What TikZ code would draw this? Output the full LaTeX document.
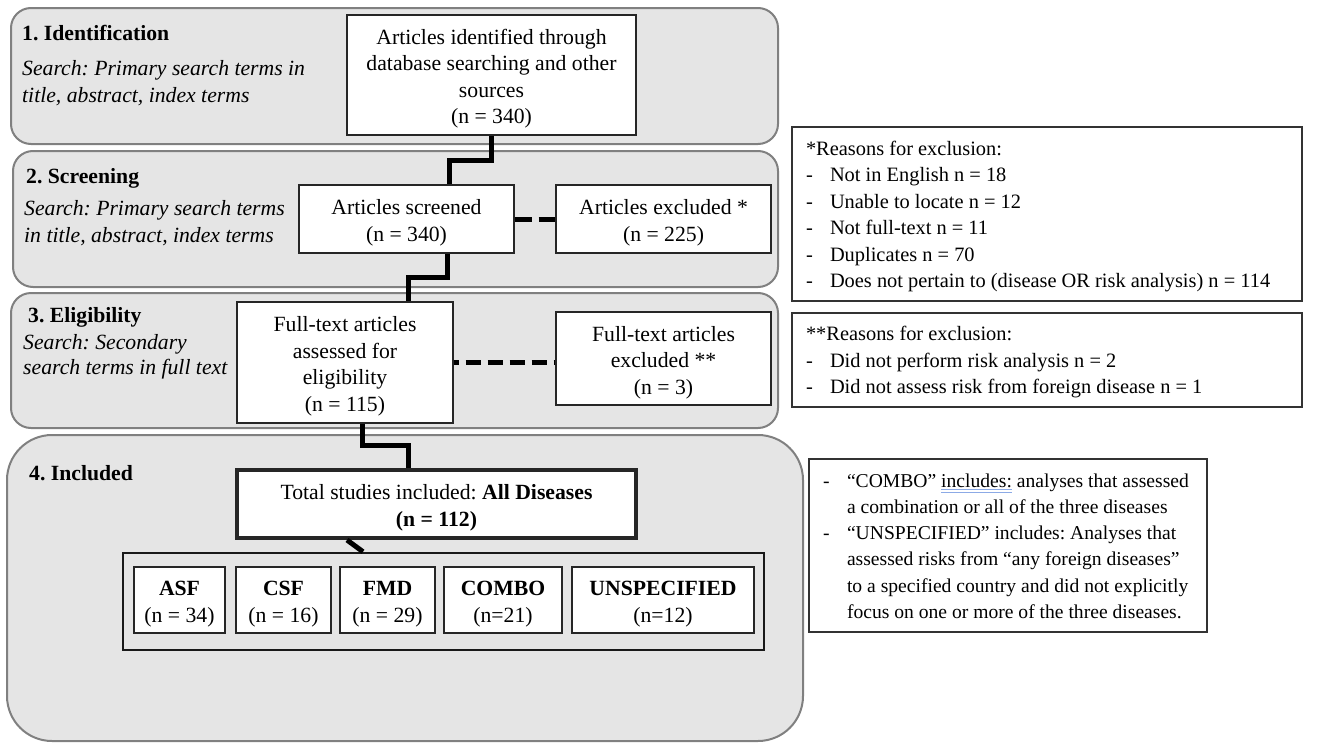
\documentclass[tikz,border=0pt]{standalone}
\usepackage{fontspec}
\setmainfont{Liberation Serif}
\usetikzlibrary{calc}
\definecolor{panelfill}{RGB}{229,229,229}
\definecolor{paneldraw}{RGB}{128,128,128}
\definecolor{ulblue}{RGB}{140,170,230}
\newcommand\fs{\fontsize{21.7}{26.5}\selectfont}
\newcommand\fsn{\fontsize{20.4}{26.5}\selectfont}
\newcommand\fsc{\fontsize{19.6}{26.3}\selectfont}
\newcommand\spellul[1]{\setbox0=\hbox{#1}\rlap{\color{ulblue}\rule[-3pt]{\wd0}{0.8pt}}\rlap{\color{ulblue}\rule[-5.3pt]{\wd0}{0.8pt}}\box0\relax}
\newcommand\dsh{\makebox[24pt][l]{-}}
\newcommand\ind{\hspace*{24pt}}
\newcommand\toprow{\rule{0pt}{22.5pt}}
\newcommand\topbox{\rule{0pt}{23pt}}
\frenchspacing
\begin{document}
\begin{tikzpicture}[x=1pt,y=-1pt,
  panel/.style={draw=paneldraw, fill=panelfill, line width=2pt, rounded corners=20pt},
  box/.style={draw=black!85, fill=white, line width=1.3pt, font=\fs, align=center, inner sep=0pt},
  grpbox/.style={draw=black!90, line width=2.5pt, inner sep=0pt},
  note/.style={draw=black!80, fill=white, line width=1.3pt, font=\fsn, inner xsep=14pt, inner ysep=0pt},
  ttl/.style={anchor=mid west, font=\fs\bfseries, inner sep=0pt},
  srch/.style={anchor=mid west, font=\fs\itshape, inner sep=0pt},
  conn/.style={line width=5pt}]
\useasboundingbox (0,0) rectangle (1338,744);
% panels
\draw[panel] (11,8) rectangle (778,144);
\draw[panel] (13,151) rectangle (778,287);
\draw[panel] (11,293) rectangle (778,428);
\draw[panel, rounded corners=45pt] (7,435) rectangle (803,741);
% panel labels
\node[ttl] (t1) at (22,38) {1. Identification};
\node[srch] (s1a) at (22,73.5) {Search: Primary search terms in};
\node[srch] (s1b) at (22,100.5) {title, abstract, index terms};
\node[ttl] (t2) at (26,181.5) {2. Screening};
\node[srch] (s2a) at (24,213.5) {Search: Primary search terms};
\node[srch] (s2b) at (24,240.5) {in title, abstract, index terms};
\node[ttl] (t3) at (28,320.5) {3. Eligibility};
\node[srch] (s3a) at (23,347.5) {Search: Secondary};
\node[srch] (s3b) at (23,372.5) {search terms in full text};
\node[ttl] (t4) at (29,478.5) {4. Included};
% flow boxes
\node[box, minimum width=289pt, minimum height=120pt] (ident) at (491.5,75) {\topbox Articles identified through\\database searching and other\\sources\\(n = 340)};
\node[box, minimum width=215pt, minimum height=68pt] (scr) at (406.5,219) {\topbox Articles screened\\(n = 340)};
\node[box, minimum width=215pt, minimum height=68pt] (exc) at (663.5,219) {\topbox Articles excluded *\\(n = 225)};
\node[box, minimum width=216pt, minimum height=121pt] (elig) at (345,362.5) {\topbox Full-text articles\\assessed for\\eligibility\\(n = 115)};
\node[box, minimum width=215pt, minimum height=93pt] (ftexc) at (663.5,358.5) {\topbox Full-text articles\\excluded **\\(n = 3)};
\node[box, line width=4pt, minimum width=399pt, minimum height=68pt] (total) at (436.5,504) {\topbox Total studies included: \textbf{All Diseases}\\\textbf{(n = 112)}};
\node[grpbox, minimum width=641pt, minimum height=97pt] (grp) at (443.5,601.5) {};
\node[box, minimum width=91pt, minimum height=66pt] (asf) at (179.5,600) {\topbox\textbf{ASF}\\(n = 34)};
\node[box, minimum width=95pt, minimum height=66pt] (csf) at (283.5,600) {\topbox\textbf{CSF}\\(n = 16)};
\node[box, minimum width=95pt, minimum height=66pt] (fmd) at (387.5,600) {\topbox\textbf{FMD}\\(n = 29)};
\node[box, minimum width=118pt, minimum height=66pt] (combo) at (503,600) {\topbox\textbf{COMBO}\\(n=21)};
\node[box, minimum width=182pt, minimum height=66pt] (unsp) at (663,600) {\topbox\textbf{UNSPECIFIED}\\(n=12)};
% connectors
\draw[conn] (ident.south) -- ++(0,25) -| ([xshift=42.5pt]scr.north);
\draw[conn] ([xshift=40.5pt]scr.south) -- ++(0,24) -| ([xshift=63pt]elig.north);
\draw[conn] ([xshift=17pt]elig.south) -- ++(0,22) -| ([xshift=-28.5pt]total.north);
\draw[conn] ([xshift=-89.5pt]total.south) -- ([xshift=-80.5pt]grp.north);
\draw[conn, dash pattern=on 17pt off 7pt] (scr.east) -- (exc.west);
\draw[conn, dash pattern=on 15pt off 7pt, dash phase=10pt] (elig.east) -- (elig.east -| ftexc.west);
% notes
\node[note, minimum width=510pt, minimum height=174pt] (rA) at (1047,214) {\makebox[482pt][l]{\begin{tabular}{@{}l@{}}\toprow*Reasons for exclusion:\\
\dsh Not in English n = 18\\
\dsh Unable to locate n = 12\\
\dsh Not full-text n = 11\\
\dsh Duplicates n = 70\\
\dsh Does not pertain to (disease OR risk analysis) n = 114\end{tabular}}};
\node[note, minimum width=510pt, minimum height=94pt] (rB) at (1047,360) {\makebox[482pt][l]{\begin{tabular}{@{}l@{}}\toprow**Reasons for exclusion:\\
\dsh Did not perform risk analysis n = 2\\
\dsh Did not assess risk from foreign disease n = 1\end{tabular}}};
\node[note, font=\fsc, minimum width=398pt, minimum height=173pt] (rC) at (1008,545.5) {\makebox[370pt][l]{\begin{tabular}{@{}l@{}}\toprow\dsh “COMBO” \spellul{includes:} analyses that assessed\\
\ind a combination or all of the three diseases\\
\dsh “UNSPECIFIED” includes: Analyses that\\
\ind assessed risks from “any foreign diseases”\\
\ind to a specified country and did not explicitly\\
\ind focus on one or more of the three diseases.\end{tabular}}};
\end{tikzpicture}
\end{document}
